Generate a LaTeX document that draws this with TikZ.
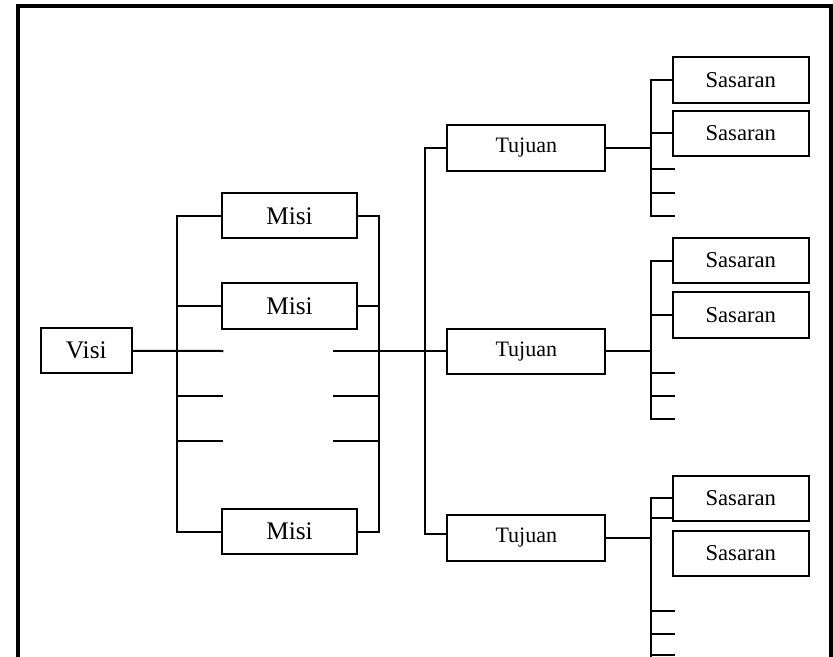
\documentclass[tikz,border=0pt]{standalone}
\usepackage{fontspec}
\setmainfont{Liberation Serif}
\begin{document}
\begin{tikzpicture}[x=0.75pt,y=-0.75pt,
  box/.style={draw,line width=1.5pt,rectangle,inner sep=0pt,minimum height=33.8pt,font=\fontsize{19}{21}\selectfont},
  tbox/.style={box,minimum width=118.5pt,font=\fontsize{16.5}{19}\selectfont},
  sbox/.style={box,minimum width=102.2pt,font=\fontsize{17}{19}\selectfont},
  conn/.style={line width=1.5pt,line cap=rect},
  frame/.style={line width=2.3pt}]
\useasboundingbox (0,0) rectangle (833,657);
% frame
\coordinate (f1) at (18,660);
\coordinate (f2) at (18,6);
\coordinate (f3) at (831,6);
\coordinate (f4) at (831,660);
\draw[frame] (f1) -- (f2) -- (f3) -- (f4);

% nodes
\node[box,minimum width=68pt] (visi) at (86.3,350.8) {Visi};
\node[box,minimum width=101.7pt] (m1) at (289.5,215.8) {Misi};
\node[box,minimum width=101.7pt] (m2) at (289.5,306) {Misi};
\node[box,minimum width=101.7pt] (m3) at (289.5,531.5) {Misi};
\node[tbox] (t1) at (526.3,148) {Tujuan};
\node[tbox] (t2) at (526.3,351.3) {Tujuan};
\node[tbox] (t3) at (526.3,538) {Tujuan};
\node[sbox] (s11) at (740.8,80) {Sasaran};
\node[sbox] (s12) at (740.8,133.3) {Sasaran};
\node[sbox] (s21) at (740.8,260.5) {Sasaran};
\node[sbox] (s22) at (740.8,315) {Sasaran};
\node[sbox] (s31) at (740.8,498.2) {Sasaran};
\node[sbox] (s32) at (740.8,553.3) {Sasaran};

% Visi to Misi bus
\coordinate (lb1) at (176.7,215.8);
\coordinate (lb3) at (176.7,531.5);
\coordinate (ls1) at (222.3,351);
\draw[conn] (visi.east) -- (ls1);
\draw[conn] (m1.west) -- (lb1) -- (lb3) -- (m3.west);
\draw[conn] (m2.west) -- (lb1 |- m2.west);
\foreach \y [count=\i] in {396.3,441.3}{
  \coordinate (lsa\i) at (176.7,\y);
  \coordinate (lsb\i) at (222.3,\y);
  \draw[conn] (lsa\i) -- (lsb\i);
}

% Misi right bus
\coordinate (rb1) at (379.3,215.8);
\coordinate (rb3) at (379.3,531.5);
\coordinate (rs0) at (334,351.3);
\draw[conn] (m1.east) -- (rb1) -- (rb3) -- (m3.east);
\draw[conn] (m2.east) -- (rb1 |- m2.east);
\draw[conn] (rs0) -- (t2.west);
\foreach \y [count=\i] in {396.3,441.3}{
  \coordinate (rsa\i) at (334,\y);
  \coordinate (rsb\i) at (379.3,\y);
  \draw[conn] (rsa\i) -- (rsb\i);
}

% Tujuan bus
\coordinate (tb1) at (424.7,148);
\coordinate (tb3) at (424.7,533.7);
\coordinate (tb3e) at (447.3,533.7);
\draw[conn] (t1.west) -- (tb1) -- (tb3) -- (tb3e);

% Sasaran group 1
\coordinate (g1a) at (650.7,80);
\coordinate (g1b) at (650.7,216);
\draw[conn] (t1.east) -- (650.7,148);
\draw[conn] (s11.west) -- (g1a) -- (g1b);
\draw[conn] (s12.west) -- (g1a |- s12.west);
\foreach \y [count=\i] in {169.3,193.3,216}{
  \coordinate (g1s\i) at (650.7,\y);
  \coordinate (g1e\i) at (674,\y);
  \draw[conn] (g1s\i) -- (g1e\i);
}

% Sasaran group 2
\coordinate (g2a) at (650.7,260.5);
\coordinate (g2b) at (650.7,419);
\draw[conn] (t2.east) -- (g2a |- t2.east);
\draw[conn] (s21.west) -- (g2a) -- (g2b);
\draw[conn] (s22.west) -- (g2a |- s22.west);
\foreach \y [count=\i] in {373.3,395.7,419}{
  \coordinate (g2s\i) at (650.7,\y);
  \coordinate (g2e\i) at (674,\y);
  \draw[conn] (g2s\i) -- (g2e\i);
}

% Sasaran group 3
\coordinate (g3a) at (650.7,498.2);
\coordinate (g3b) at (650.7,660);
\coordinate (g3c) at (650.7,518.3);
\coordinate (g3d) at (672.7,518.3);
\draw[conn] (t3.east) -- (g3a |- t3.east);
\draw[conn] (s31.west) -- (g3a) -- (g3b);
\draw[conn] (g3c) -- (g3d);
\foreach \y [count=\i] in {611.3,633.7,655}{
  \coordinate (g3s\i) at (650.7,\y);
  \coordinate (g3e\i) at (674,\y);
  \draw[conn] (g3s\i) -- (g3e\i);
}
\end{tikzpicture}
\end{document}
